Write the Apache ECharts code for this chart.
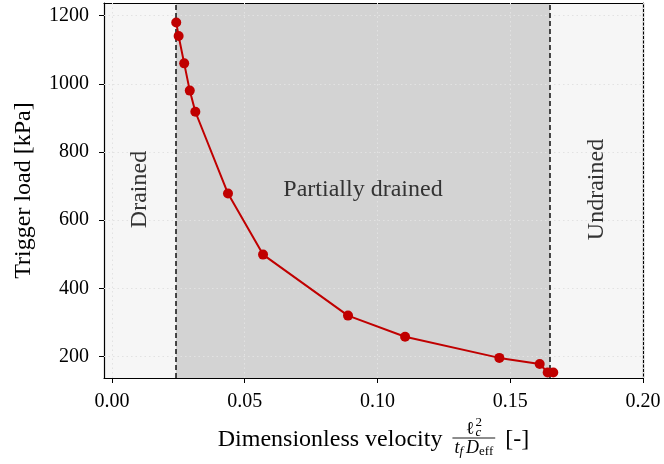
<!DOCTYPE html>
<html><head><meta charset="utf-8">
<script src="https://cdn.jsdelivr.net/npm/echarts@6/dist/echarts.min.js"></script>
<style>html,body{margin:0;padding:0;background:#fff}#c{width:664px;height:464px}</style>
</head><body><div id="c"></div>
<script>
// ---- data ----
const velocity    = [0.0242, 0.0251, 0.0272, 0.0293, 0.0314, 0.0437, 0.0569, 0.0889, 0.1104, 0.1459, 0.1611, 0.1641, 0.1662];
const triggerLoad = [1180, 1140, 1060, 980, 918, 678, 499, 320, 258, 196, 178, 153, 153];
const xTicks = [0, 0.05, 0.10, 0.15, 0.20];
const yTicks = [200, 400, 600, 800, 1000, 1200];
const xRange = [-0.003, 0.20];
const yRange = [137, 1237];
const boundaryLines = [0.0241, 0.165];
const regionBounds = [-0.003, 0.0241, 0.165, 0.20];
const regionNames = ['Drained', 'Partially drained', 'Undrained'];
const regionLabelY = 690;

// ---- style ----
const SERIF = "'Liberation Serif', 'Times New Roman', serif";
const regionColors = ['#f6f6f6', '#d3d3d3', '#f6f6f6'];
const regionRotate = [Math.PI / 2, 0, Math.PI / 2];
const RED = '#c00000';

const chart = echarts.init(document.getElementById('c'), null, { renderer: 'canvas' });

function frameAxis(pos, isX, main) {
  const ax = {
    type: 'value',
    position: pos,
    min: isX ? xRange[0] : yRange[0],
    max: isX ? xRange[1] : yRange[1],
    z: 4,
    axisLine: { show: true, onZero: false, lineStyle: { color: '#000', width: 1.2 } },
    axisTick: { show: false },
    axisLabel: { show: false },
    splitLine: { show: false }
  };
  if (main) {
    const ticks = isX ? xTicks : yTicks;
    ax.axisTick = { show: true, customValues: ticks, length: 5, inside: false, lineStyle: { color: '#000', width: 1 } };
    ax.axisLabel = {
      show: true, customValues: ticks,
      formatter: v => isX ? Number(v).toFixed(2) : String(Math.round(v)),
      fontFamily: SERIF, fontSize: 20, color: '#000', margin: isX ? 14 : 15
    };
  }
  return ax;
}

const yAxisMain = frameAxis('left', false, true);
yAxisMain.name = 'Trigger load [kPa]';
yAxisMain.nameLocation = 'middle';
yAxisMain.nameGap = 68;
yAxisMain.nameTextStyle = { fontFamily: SERIF, fontSize: 24, color: '#000' };

const option = {
  animation: false,
  backgroundColor: '#fff',
  grid: { left: 104, right: 21, top: 3, bottom: 86, show: false },
  xAxis: [frameAxis('bottom', true, true), frameAxis('top', true, false)],
  yAxis: [yAxisMain, frameAxis('right', false, false)],
  series: [
    {
      type: 'line', data: [], z: 1, silent: true,
      markArea: {
        silent: true,
        data: regionNames.map((n, i) => [
          { xAxis: regionBounds[i], itemStyle: { color: regionColors[i], opacity: 1 } },
          { xAxis: regionBounds[i + 1] }
        ])
      }
    },
    {
      type: 'line', data: [], z: 2, silent: true,
      markLine: {
        silent: true, precision: 6, symbol: ['none', 'none'], label: { show: false },
        lineStyle: { type: [1.5, 3], color: '#e2e2e2', width: 1 },
        data: [...xTicks.map(v => ({ xAxis: v })), ...yTicks.map(v => ({ yAxis: v }))]
      }
    },
    {
      type: 'line', data: [], z: 3, silent: true,
      markLine: {
        silent: true, precision: 6, symbol: ['none', 'none'], label: { show: false },
        lineStyle: { type: [5, 3], color: '#111', width: 1.5 },
        data: boundaryLines.map(v => ({ xAxis: v }))
      }
    },
    {
      type: 'line', z: 5,
      data: velocity.map((v, i) => [v, triggerLoad[i]]),
      symbol: 'circle', symbolSize: 10,
      lineStyle: { color: RED, width: 2 },
      itemStyle: { color: RED }
    }
  ]
};
chart.setOption(option);

// ---- annotations & composite x-axis title ----
const ctx = document.createElement('canvas').getContext('2d');
function fontStr(size, italic) { return (italic ? 'italic ' : '') + size + 'px ' + SERIF; }
function measure(t, size, italic) { ctx.font = fontStr(size, italic); return ctx.measureText(t).width; }
function txt(t, x, y, size, italic, align, extra) {
  return Object.assign({
    type: 'text', x: x, y: y, z: 10, silent: true,
    style: { text: t, font: fontStr(size, italic), fill: '#000', align: align || 'left', verticalAlign: 'middle' }
  }, extra || {});
}

const g = [];
regionNames.forEach((n, i) => {
  const mid = (regionBounds[i] + regionBounds[i + 1]) / 2;
  const p = chart.convertToPixel({ xAxisIndex: 0, yAxisIndex: 0 }, [mid, regionLabelY]);
  g.push({
    type: 'text', x: p[0], y: p[1], rotation: regionRotate[i], z: 10, silent: true,
    style: { text: n, font: fontStr(24, false), fill: '#333', align: 'center', verticalAlign: 'middle' }
  });
});

// x-axis title: "Dimensionless velocity  l_c^2 / (t_f D_eff)  [-]"
const MAIN = 24, FR = 18, SC = 13;
const mainText = 'Dimensionless velocity';
const wMain = measure(mainText, MAIN, false);
const wEll = measure('ℓ', FR, false);
const wSup = Math.max(measure('2', SC, false), measure('c', SC, true));
const numW = wEll + 1 + wSup;
const wT = measure('t', FR, true), wF = measure('f', SC, true), wD = measure('D', FR, true), wEff = measure('eff', SC, false);
const denW = wT + wF + 3 + wD + wEff;
const fracW = Math.max(numW, denW) + 4;
const bracket = '[-]';
const wBr = measure(bracket, MAIN, false);
const gap1 = 10, gap2 = 10;
const total = wMain + gap1 + fracW + gap2 + wBr;
const plotL = 104, plotR = 664 - 21;
let x0 = (plotL + plotR) / 2 - total / 2;
const yMid = 440;
const barY = 438;
g.push(txt(mainText, x0, yMid, MAIN, false));
let fx = x0 + wMain + gap1;
g.push({ type: 'line', z: 10, silent: true, shape: { x1: fx, y1: barY, x2: fx + fracW, y2: barY }, style: { stroke: '#000', lineWidth: 0.9 } });
let nx = fx + (fracW - numW) / 2;
g.push(txt('ℓ', nx, barY - 9, FR, false));
g.push(txt('2', nx + wEll + 1, barY - 15, SC, false));
g.push(txt('c', nx + wEll + 1, barY - 5, SC, true));
let dx = fx + (fracW - denW) / 2;
const denY = barY + 10;
g.push(txt('t', dx, denY, FR, true)); dx += wT;
g.push(txt('f', dx, denY + 4, SC, true)); dx += wF + 3;
g.push(txt('D', dx, denY, FR, true)); dx += wD;
g.push(txt('eff', dx, denY + 4, SC, false));
g.push(txt(bracket, fx + fracW + gap2, yMid, MAIN, false));

chart.setOption({ graphic: g });
</script>
</body></html>
